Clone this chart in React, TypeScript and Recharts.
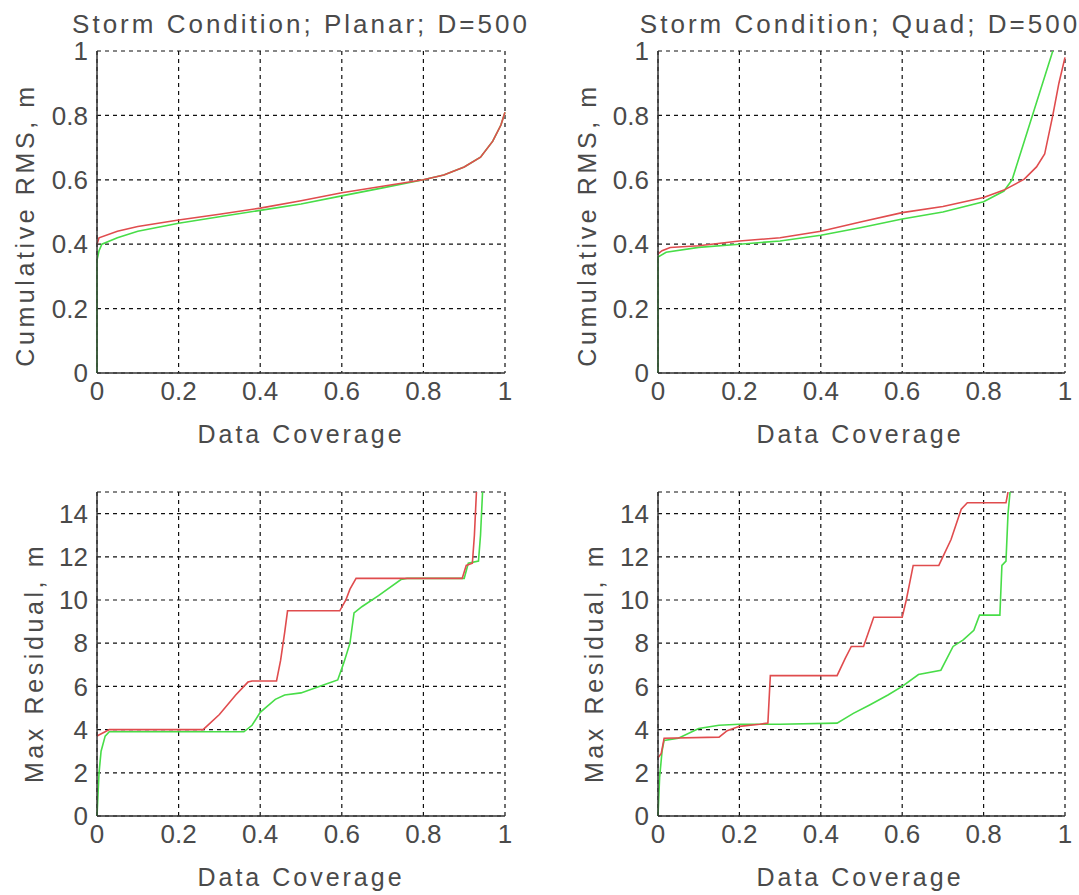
import { LineChart, Line, XAxis, YAxis, CartesianGrid } from 'recharts'

// x: data coverage, y: value
type Pair = [number, number]

const coverageTicks = [0, 0.2, 0.4, 0.6, 0.8, 1]
const rmsTicks = [0, 0.2, 0.4, 0.6, 0.8, 1]
const residualTicks = [0, 2, 4, 6, 8, 10, 12, 14]

const planarRmsGreen: Pair[] = [
  [0, 0], [0, 0.35], [0.005, 0.38], [0.012, 0.4], [0.05, 0.42], [0.1, 0.44], [0.2, 0.465],
  [0.3, 0.485], [0.4, 0.505], [0.5, 0.525], [0.6, 0.55], [0.7, 0.575], [0.8, 0.6],
  [0.85, 0.615], [0.9, 0.64], [0.94, 0.67], [0.97, 0.72], [0.99, 0.77], [1, 0.81],
]
const planarRmsRed: Pair[] = [
  [0, 0.4], [0.005, 0.42], [0.05, 0.44], [0.1, 0.455], [0.2, 0.475], [0.3, 0.493],
  [0.4, 0.512], [0.5, 0.535], [0.6, 0.56], [0.7, 0.58], [0.8, 0.6], [0.85, 0.615],
  [0.9, 0.64], [0.94, 0.67], [0.97, 0.72], [0.99, 0.77], [1, 0.81],
]

const quadRmsGreen: Pair[] = [
  [0, 0], [0, 0.36], [0.02, 0.375], [0.1, 0.39], [0.2, 0.4], [0.3, 0.41], [0.4, 0.428],
  [0.5, 0.452], [0.6, 0.478], [0.7, 0.5], [0.8, 0.532], [0.85, 0.565], [0.87, 0.6],
  [0.9, 0.72], [0.93, 0.84], [0.97, 1.0],
]
const quadRmsRed: Pair[] = [
  [0, 0.37], [0.01, 0.38], [0.03, 0.39], [0.1, 0.395], [0.2, 0.41], [0.3, 0.42],
  [0.4, 0.44], [0.5, 0.47], [0.6, 0.498], [0.7, 0.517], [0.8, 0.545], [0.85, 0.568],
  [0.9, 0.602], [0.93, 0.64], [0.95, 0.68], [0.97, 0.8], [0.985, 0.9], [1, 0.98],
]

const planarMaxGreen: Pair[] = [
  [0, 0], [0.005, 2], [0.01, 3], [0.02, 3.7], [0.03, 3.9], [0.36, 3.9], [0.38, 4.2],
  [0.4, 4.8], [0.437, 5.4], [0.46, 5.6], [0.5, 5.7], [0.56, 6.1], [0.59, 6.3],
  [0.605, 7.1], [0.62, 8.0], [0.63, 9.4], [0.65, 9.7], [0.69, 10.2], [0.745, 10.95],
  [0.76, 11.0], [0.9, 11.0], [0.91, 11.7], [0.935, 11.8], [0.94, 13], [0.945, 15],
]
const planarMaxRed: Pair[] = [
  [0, 3.7], [0.02, 3.9], [0.03, 4.0], [0.26, 4.0], [0.3, 4.7], [0.34, 5.6], [0.37, 6.2],
  [0.38, 6.25], [0.44, 6.25], [0.45, 7.2], [0.46, 8.5], [0.467, 9.5], [0.595, 9.5],
  [0.61, 10.0], [0.62, 10.5], [0.635, 11.0], [0.895, 11.0], [0.905, 11.6], [0.92, 11.7],
  [0.925, 13], [0.93, 15],
]

const quadMaxGreen: Pair[] = [
  [0, 0], [0.004, 1.8], [0.01, 3.0], [0.015, 3.5], [0.05, 3.6], [0.1, 4.05], [0.15, 4.2],
  [0.2, 4.25], [0.3, 4.25], [0.44, 4.3], [0.48, 4.75], [0.52, 5.14], [0.565, 5.6],
  [0.6, 6.0], [0.64, 6.55], [0.695, 6.75], [0.725, 7.85], [0.75, 8.15], [0.776, 8.6],
  [0.79, 9.3], [0.84, 9.3], [0.845, 11.6], [0.855, 11.8], [0.86, 14], [0.865, 15],
]
const quadMaxRed: Pair[] = [
  [0, 2.7], [0.008, 2.9], [0.015, 3.6], [0.15, 3.65], [0.17, 3.95], [0.2, 4.15],
  [0.25, 4.25], [0.27, 4.3], [0.276, 6.5], [0.44, 6.5], [0.46, 7.3], [0.475, 7.85],
  [0.505, 7.85], [0.53, 9.2], [0.6, 9.2], [0.61, 10.0], [0.627, 11.6], [0.69, 11.6],
  [0.72, 12.8], [0.745, 14.2], [0.76, 14.5], [0.855, 14.5], [0.86, 15],
]

const RED = '#e04c4e'
const GREEN = '#48dd48'
const INK = '#4a4a4a'
const FONT = '"Liberation Sans", Arial, sans-serif'

const toPoints = (pairs: Pair[]) => pairs.map(([x, y]) => ({ x, y }))

interface PanelProps {
  left: number
  top: number
  width: number
  height: number
  margin: { top: number; right: number; bottom: number; left: number }
  green: Pair[]
  red: Pair[]
  yDomain: [number, number]
  yTicks: number[]
}

function Panel({ left, top, width, height, margin, green, red, yDomain, yTicks }: PanelProps) {
  const tick = { fill: INK, fontSize: 26, fontFamily: FONT }
  return (
    <div style={{ position: 'absolute', left, top }}>
      <LineChart width={width} height={height} margin={margin}>
        <CartesianGrid stroke="#111" strokeDasharray="4 4" strokeWidth={1.2} />
        <XAxis
          type="number"
          dataKey="x"
          domain={[0, 1]}
          ticks={coverageTicks}
          height={30}
          tickSize={0}
          tickMargin={9}
          tickLine={false}
          axisLine={{ stroke: '#333', strokeWidth: 1.5 }}
          tick={tick}
          interval={0}
        />
        <YAxis
          type="number"
          domain={yDomain}
          ticks={yTicks}
          width={60}
          tickSize={0}
          tickMargin={9}
          tickLine={false}
          axisLine={{ stroke: '#333', strokeWidth: 1.5 }}
          tick={tick}
          interval={0}
          allowDataOverflow
        />
        <Line data={toPoints(green)} dataKey="y" stroke={GREEN} strokeWidth={1.6} dot={false} isAnimationActive={false} />
        <Line data={toPoints(red)} dataKey="y" stroke={RED} strokeWidth={1.6} dot={false} isAnimationActive={false} />
      </LineChart>
    </div>
  )
}

const textStyle = { fontFamily: FONT, fill: INK, letterSpacing: 3 }
const sideStyle = { fontFamily: FONT, fill: INK, letterSpacing: 3.6 }

export default function App() {
  return (
    <div style={{ position: 'absolute', left: 0, top: 0, width: 1079, height: 895, background: '#fff', overflow: 'hidden' }}>
      <Panel
        left={0} top={0} width={540} height={450}
        margin={{ top: 51, right: 35, bottom: 47, left: 37 }}
        green={planarRmsGreen} red={planarRmsRed} yDomain={[0, 1]} yTicks={rmsTicks}
      />
      <Panel
        left={540} top={0} width={539} height={450}
        margin={{ top: 51, right: 14, bottom: 47, left: 58 }}
        green={quadRmsGreen} red={quadRmsRed} yDomain={[0, 1]} yTicks={rmsTicks}
      />
      <Panel
        left={0} top={450} width={540} height={445}
        margin={{ top: 42, right: 35, bottom: 49, left: 37 }}
        green={planarMaxGreen} red={planarMaxRed} yDomain={[0, 15]} yTicks={residualTicks}
      />
      <Panel
        left={540} top={450} width={539} height={445}
        margin={{ top: 42, right: 14, bottom: 49, left: 58 }}
        green={quadMaxGreen} red={quadMaxRed} yDomain={[0, 15]} yTicks={residualTicks}
      />
      <svg width={1079} height={895} style={{ position: 'absolute', left: 0, top: 0, pointerEvents: 'none' }}>
        <text x={301} y={33} textAnchor="middle" fontSize={26} style={textStyle}>Storm Condition; Planar; D=500</text>
        <text x={860} y={33} textAnchor="middle" fontSize={26} style={textStyle}>Storm Condition; Quad; D=500</text>

        <text x={301} y={443} textAnchor="middle" fontSize={25} style={textStyle}>Data Coverage</text>
        <text x={860} y={443} textAnchor="middle" fontSize={25} style={textStyle}>Data Coverage</text>
        <text x={301} y={886} textAnchor="middle" fontSize={25} style={textStyle}>Data Coverage</text>
        <text x={860} y={886} textAnchor="middle" fontSize={25} style={textStyle}>Data Coverage</text>

        <text x={34} y={225} textAnchor="middle" fontSize={25} transform="rotate(-90 34 225)" style={sideStyle}>Cumulative RMS, m</text>
        <text x={596} y={225} textAnchor="middle" fontSize={25} transform="rotate(-90 596 225)" style={sideStyle}>Cumulative RMS, m</text>
        <text x={43} y={663} textAnchor="middle" fontSize={25} transform="rotate(-90 43 663)" style={sideStyle}>Max Residual, m</text>
        <text x={603} y={663} textAnchor="middle" fontSize={25} transform="rotate(-90 603 663)" style={sideStyle}>Max Residual, m</text>
      </svg>
    </div>
  )
}
